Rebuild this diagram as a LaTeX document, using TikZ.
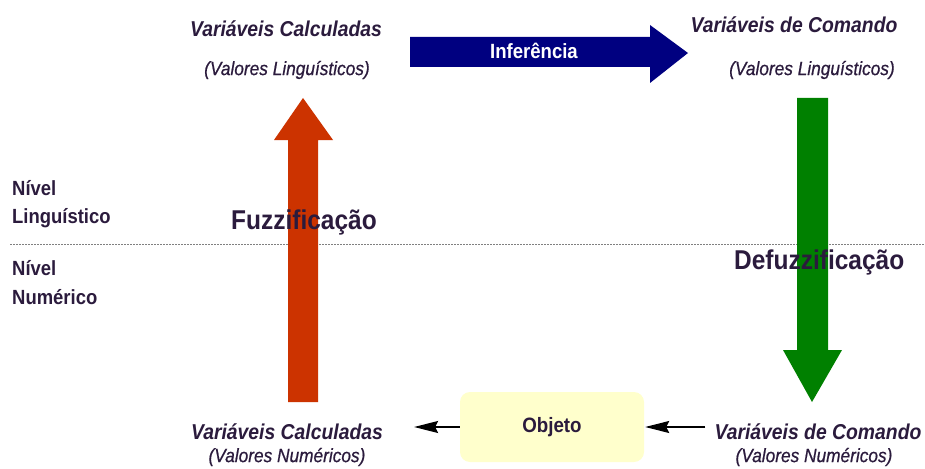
\documentclass[tikz,border=0pt]{standalone}
\usepackage{fontspec}
\setmainfont{Liberation Sans}[FakeStretch=0.9]
\usetikzlibrary{arrows.meta}
\definecolor{ink}{HTML}{2B1B3D}
\definecolor{fuzzred}{HTML}{CC3300}
\definecolor{defgreen}{HTML}{008000}
\definecolor{infblue}{HTML}{000080}
\definecolor{objfill}{HTML}{FFFFCC}
\tikzset{
  title/.style={text=ink, font=\fontsize{21.5}{23}\selectfont\bfseries\itshape, inner sep=0pt},
  subtitle/.style={text=ink, font=\fontsize{19.2}{21}\selectfont\itshape\addfontfeature{FakeBold=0.6}, inner sep=0pt},
  level/.style={text=ink, font=\fontsize{20.5}{22}\selectfont\bfseries, inner sep=0pt, anchor=west},
  stage/.style={text=ink, font=\fontsize{27.2}{30}\selectfont\bfseries, inner sep=0pt, anchor=west},
  objbox/.style={fill=objfill, draw=none, rounded corners=10pt, minimum width=184pt, minimum height=70pt,
    text=ink, font=\fontsize{20.8}{22}\selectfont\bfseries},
  conn/.style={draw=black, line width=1.6pt, -{Stealth[length=24pt,width=12pt,inset=3pt]}}
}
\begin{document}
\begin{tikzpicture}[x=1pt,y=-1pt]
  \useasboundingbox (0,0) rectangle (925,468);
  \fill[white] (0,0) rectangle (925,468);

  % boundary between the linguistic and numeric levels
  \draw[gray, line width=0.6pt, dash pattern=on 2pt off 1pt] (10,244) -- (925,244);

  % inference arrow
  \fill[infblue] (410,37) -- (650,37) -- (650,25) -- (688,53) -- (650,83) -- (650,67) -- (410,67) -- cycle;
  \node[text=white, font=\fontsize{20.6}{22}\selectfont\bfseries] (inf) at (534,51) {Inferência};

  % fuzzification arrow (upwards)
  \fill[fuzzred] (288,402) -- (288,140) -- (274,140) -- (303,98) -- (333,140) -- (318,140) -- (318,402) -- cycle;
  % defuzzification arrow (downwards)
  \fill[defgreen] (797,98) -- (828,98) -- (828,350) -- (842,350) -- (812,402) -- (783,350) -- (797,350) -- cycle;

  % linguistic level labels
  \node[title] (vcl) at (286,29) {Variáveis Calculadas};
  \node[subtitle] (vcls) at (287,70) {(Valores Linguísticos)};
  \node[title] (vdl) at (794,25) {Variáveis de Comando};
  \node[subtitle] (vdls) at (812,70) {(Valores Linguísticos)};

  % level names
  \node[level] (n1) at (12,188) {Nível};
  \node[level] (n2) at (12,218) {Linguístico};
  \node[level] (n3) at (12,268) {Nível};
  \node[level] (n4) at (12,297) {Numérico};

  % stage names
  \node[stage] (fuz) at (231,222) {Fuzzificação};
  \node[stage] (defuz) at (734,262) {Defuzzificação};

  % numeric level
  \node[objbox] (obj) at (552,427) {Objeto};
  \node[title] (vcn) at (287,432) {Variáveis Calculadas};
  \node[subtitle] (vcns) at (287,457) {(Valores Numéricos)};
  \node[title] (vdn) at (818,432) {Variáveis de Comando};
  \node[subtitle] (vdns) at (814,457) {(Valores Numéricos)};

  \draw[conn, shorten >=31pt] (obj.west) -- (obj.west -| vcn.east);
  \draw[conn, shorten <=9pt, shorten >=1pt] (obj.east -| vdn.west) -- (obj.east);
\end{tikzpicture}
\end{document}
